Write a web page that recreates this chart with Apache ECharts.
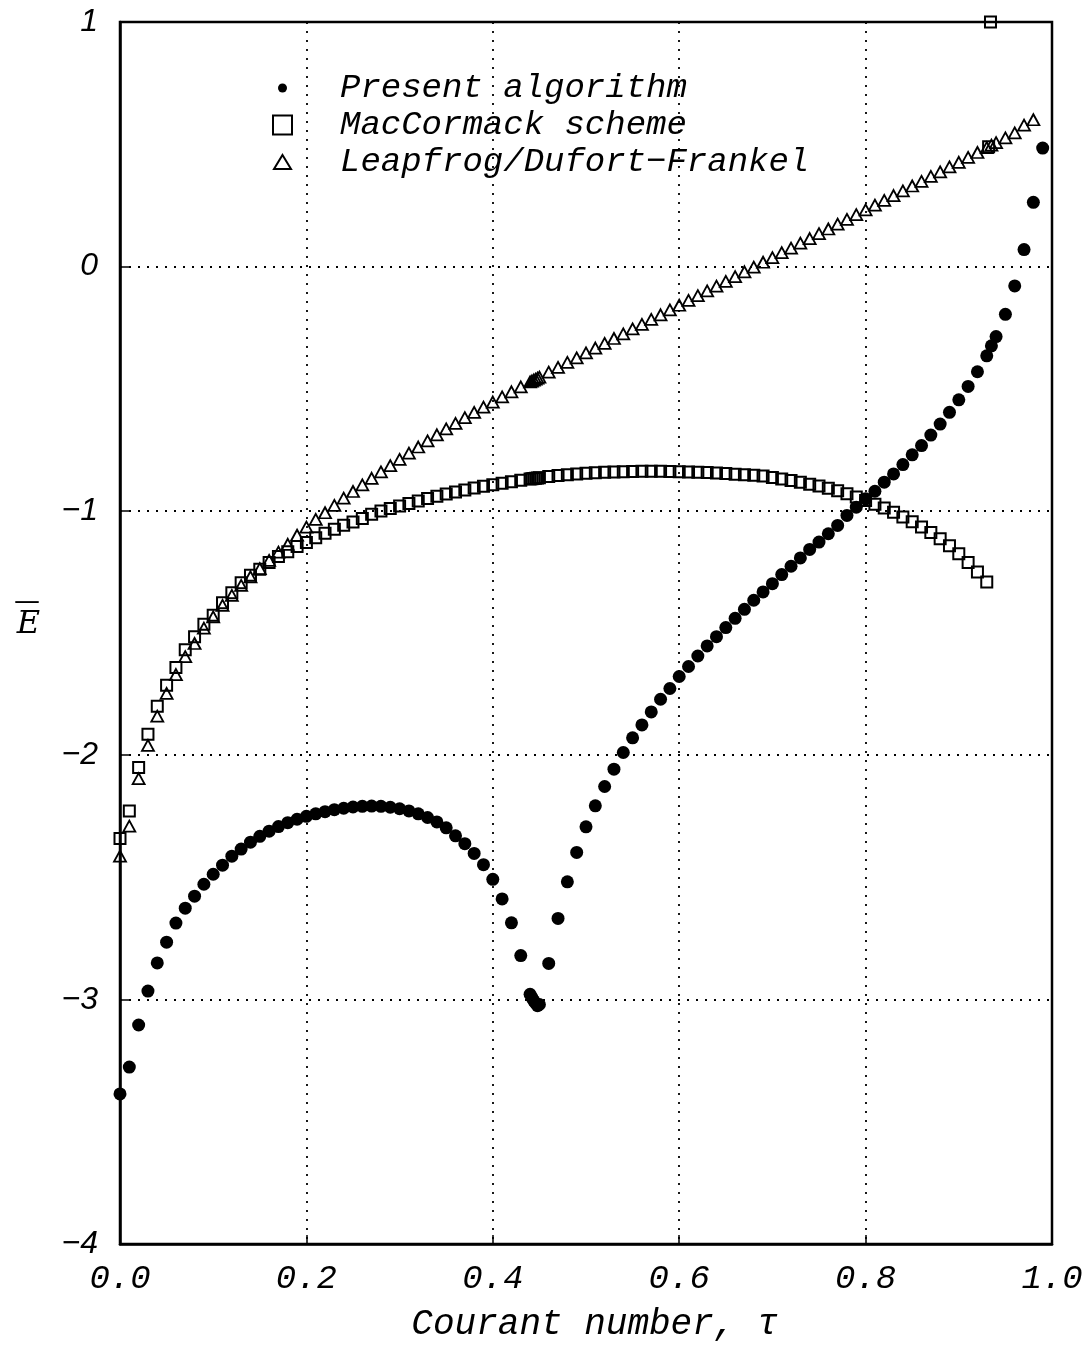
<!DOCTYPE html>
<html>
<head>
<meta charset="utf-8">
<script src="https://cdn.jsdelivr.net/npm/echarts@6/dist/echarts.min.js"></script>
<style>
html,body{margin:0;padding:0;background:#fff;}
#chart{width:1089px;height:1347px;}
</style>
</head>
<body>
<div id="chart"></div>
<script>
// ---- data ----
const presentX = [0,0.01,0.02,0.03,0.04,0.05,0.06,0.07,0.08,0.09,0.10,0.11,0.12,0.13,0.14,0.15,0.16,0.17,0.18,0.19,0.20,0.21,0.22,0.23,0.24,0.25,0.26,0.27,0.28,0.29,0.30,0.31,0.32,0.33,0.34,0.35,0.36,0.37,0.38,0.39,0.40,0.41,0.42,0.43,0.44,0.442,0.444,0.446,0.448,0.45,0.46,0.47,0.48,0.49,0.50,0.51,0.52,0.53,0.54,0.55,0.56,0.57,0.58,0.59,0.60,0.61,0.62,0.63,0.64,0.65,0.66,0.67,0.68,0.69,0.70,0.71,0.72,0.73,0.74,0.75,0.76,0.77,0.78,0.79,0.80,0.81,0.82,0.83,0.84,0.85,0.86,0.87,0.88,0.89,0.90,0.91,0.92,0.93,0.935,0.94,0.95,0.96,0.97,0.98,0.99];
const presentY = [-3.386,-3.276,-3.104,-2.965,-2.850,-2.765,-2.687,-2.626,-2.577,-2.528,-2.487,-2.450,-2.413,-2.384,-2.356,-2.332,-2.311,-2.292,-2.276,-2.262,-2.250,-2.240,-2.231,-2.223,-2.217,-2.212,-2.209,-2.208,-2.209,-2.213,-2.219,-2.228,-2.240,-2.255,-2.273,-2.297,-2.330,-2.362,-2.402,-2.448,-2.508,-2.588,-2.686,-2.820,-2.978,-2.992,-3.005,-3.015,-3.025,-3.020,-2.852,-2.668,-2.518,-2.398,-2.293,-2.207,-2.128,-2.057,-1.989,-1.929,-1.876,-1.823,-1.771,-1.727,-1.678,-1.637,-1.594,-1.553,-1.515,-1.478,-1.440,-1.403,-1.366,-1.332,-1.298,-1.261,-1.227,-1.193,-1.158,-1.128,-1.094,-1.060,-1.019,-0.985,-0.951,-0.920,-0.883,-0.849,-0.811,-0.771,-0.733,-0.690,-0.645,-0.597,-0.546,-0.491,-0.431,-0.366,-0.325,-0.287,-0.196,-0.080,0.069,0.262,0.484];

const macX = [0,0.01,0.02,0.03,0.04,0.05,0.06,0.07,0.08,0.09,0.10,0.11,0.12,0.13,0.14,0.15,0.16,0.17,0.18,0.19,0.20,0.21,0.22,0.23,0.24,0.25,0.26,0.27,0.28,0.29,0.30,0.31,0.32,0.33,0.34,0.35,0.36,0.37,0.38,0.39,0.40,0.41,0.42,0.43,0.44,0.442,0.444,0.446,0.448,0.45,0.46,0.47,0.48,0.49,0.50,0.51,0.52,0.53,0.54,0.55,0.56,0.57,0.58,0.59,0.60,0.61,0.62,0.63,0.64,0.65,0.66,0.67,0.68,0.69,0.70,0.71,0.72,0.73,0.74,0.75,0.76,0.77,0.78,0.79,0.80,0.81,0.82,0.83,0.84,0.85,0.86,0.87,0.88,0.89,0.90,0.91,0.92,0.93,0.932,0.934];
const macY = [-2.341,-2.228,-2.050,-1.914,-1.800,-1.714,-1.641,-1.569,-1.515,-1.464,-1.427,-1.376,-1.335,-1.294,-1.264,-1.239,-1.212,-1.187,-1.168,-1.146,-1.130,-1.110,-1.092,-1.076,-1.059,-1.046,-1.031,-1.014,-1.001,-0.991,-0.980,-0.970,-0.960,-0.950,-0.940,-0.931,-0.923,-0.915,-0.907,-0.900,-0.893,-0.887,-0.881,-0.875,-0.870,-0.869,-0.868,-0.867,-0.866,-0.865,-0.860,-0.856,-0.852,-0.849,-0.846,-0.844,-0.842,-0.841,-0.840,-0.839,-0.838,-0.838,-0.838,-0.839,-0.840,-0.841,-0.842,-0.843,-0.845,-0.847,-0.850,-0.852,-0.855,-0.858,-0.864,-0.870,-0.876,-0.883,-0.891,-0.899,-0.908,-0.918,-0.930,-0.944,-0.958,-0.973,-0.989,-1.006,-1.025,-1.045,-1.066,-1.089,-1.114,-1.143,-1.176,-1.212,-1.250,-1.291,0.490,1.000];

const leapX = [0,0.01,0.02,0.03,0.04,0.05,0.06,0.07,0.08,0.09,0.10,0.11,0.12,0.13,0.14,0.15,0.16,0.17,0.18,0.19,0.20,0.21,0.22,0.23,0.24,0.25,0.26,0.27,0.28,0.29,0.30,0.31,0.32,0.33,0.34,0.35,0.36,0.37,0.38,0.39,0.40,0.41,0.42,0.43,0.44,0.442,0.444,0.446,0.448,0.45,0.46,0.47,0.48,0.49,0.50,0.51,0.52,0.53,0.54,0.55,0.56,0.57,0.58,0.59,0.60,0.61,0.62,0.63,0.64,0.65,0.66,0.67,0.68,0.69,0.70,0.71,0.72,0.73,0.74,0.75,0.76,0.77,0.78,0.79,0.80,0.81,0.82,0.83,0.84,0.85,0.86,0.87,0.88,0.89,0.90,0.91,0.92,0.93,0.935,0.94,0.95,0.96,0.97,0.98];
const leapY = [-2.413,-2.290,-2.096,-1.960,-1.840,-1.747,-1.670,-1.597,-1.543,-1.480,-1.434,-1.387,-1.346,-1.305,-1.270,-1.237,-1.203,-1.169,-1.137,-1.100,-1.067,-1.035,-1.008,-0.978,-0.948,-0.921,-0.894,-0.867,-0.841,-0.815,-0.790,-0.764,-0.739,-0.714,-0.689,-0.665,-0.642,-0.619,-0.597,-0.576,-0.555,-0.534,-0.513,-0.493,-0.473,-0.469,-0.465,-0.461,-0.457,-0.453,-0.433,-0.413,-0.393,-0.374,-0.354,-0.334,-0.315,-0.295,-0.276,-0.256,-0.237,-0.217,-0.198,-0.178,-0.159,-0.139,-0.120,-0.100,-0.081,-0.061,-0.042,-0.022,-0.003,0.017,0.036,0.056,0.075,0.095,0.114,0.134,0.153,0.173,0.192,0.212,0.231,0.251,0.270,0.290,0.309,0.329,0.348,0.368,0.387,0.407,0.426,0.446,0.466,0.486,0.496,0.506,0.526,0.546,0.578,0.600];

const seriesNames = ['Present algorithm', 'MacCormack scheme', 'Leapfrog/Dufort\u2212Frankel'];
const xTicks = [0, 0.2, 0.4, 0.6, 0.8, 1.0];
const yTicks = [-4, -3, -2, -1, 0, 1];
const xTitle = 'Courant number, \u03C4';
const yTitleLetter = 'E';

function pairs(xs, ys) { return xs.map((x, i) => [x, ys[i]]); }

const chart = echarts.init(document.getElementById('chart'), null, {renderer: 'canvas'});

const monoItalic = {fontFamily: 'Liberation Mono', fontStyle: 'italic', color: '#000'};
const dotted = {type: [2, 7], color: '#000', width: 1.8};

const option = {
  animation: false,
  backgroundColor: '#fff',
  grid: {left: 120, top: 22, right: 37, bottom: 102, show: true, borderColor: '#000', borderWidth: 2.5, backgroundColor: 'transparent'},
  legend: {
    orient: 'vertical',
    left: 272,
    top: 71,
    padding: 0,
    itemWidth: 19,
    itemHeight: 19,
    itemGap: 3,
    selectedMode: false,
    data: [
      {name: seriesNames[0], icon: 'path://M0,0M19,19M5,9.5A4.5,4.5,0,1,0,14,9.5A4.5,4.5,0,1,0,5,9.5Z'},
      {name: seriesNames[1], icon: 'rect'},
      {name: seriesNames[2], icon: 'path://M0,2M19,16M9.5,2L18,16L1,16Z'}
    ],
    textStyle: Object.assign({fontSize: 34, padding: [0, 0, 0, 43]}, monoItalic)
  },
  xAxis: {
    type: 'value', min: xTicks[0], max: xTicks[xTicks.length - 1], interval: 0.2,
    name: xTitle, nameLocation: 'middle', nameGap: 62,
    nameTextStyle: Object.assign({fontSize: 36, padding: [0, 0, 0, 18]}, monoItalic),
    axisLine: {show: true, onZero: false, lineStyle: {color: '#000', width: 2.5}},
    axisTick: {show: true, inside: true, length: 9, lineStyle: {color: '#000', width: 1.5}},
    axisLabel: {margin: 18, formatter: v => v.toFixed(1), fontSize: 34, fontFamily: 'Liberation Mono', fontStyle: 'italic', color: '#000'},
    splitLine: {show: true, lineStyle: dotted}
  },
  yAxis: {
    type: 'value', min: yTicks[0], max: yTicks[yTicks.length - 1], interval: 1,
    name: '{bar|\u2014}\n{e|' + yTitleLetter + '}', nameLocation: 'middle', nameRotate: 0, nameGap: 80,
    nameTextStyle: {
      color: '#000',
      padding: [0, 0, 28, 0],
      rich: {
        bar: {fontFamily: 'DejaVu Sans', fontSize: 26, lineHeight: 12, padding: [0, 0, 0, 6], color: '#000'},
        e: {fontFamily: 'DejaVu Serif', fontStyle: 'italic', fontSize: 32, lineHeight: 34, color: '#000'}
      }
    },
    axisLine: {show: true, onZero: false, lineStyle: {color: '#000', width: 2.5}},
    axisTick: {show: true, inside: true, length: 9, lineStyle: {color: '#000', width: 1.5}},
    axisLabel: {margin: 22, formatter: v => (v < 0 ? '\u2212' + Math.abs(v) : String(v)), fontSize: 32, fontFamily: 'Liberation Sans', fontStyle: 'italic', color: '#000'},
    splitLine: {show: true, lineStyle: dotted}
  },
  series: [
    {
      name: seriesNames[0], type: 'scatter', clip: false, z: 2,
      symbol: 'circle', symbolSize: 13,
      itemStyle: {color: '#000', opacity: 1},
      data: pairs(presentX, presentY)
    },
    {
      name: seriesNames[1], type: 'scatter', clip: false, z: 3,
      symbol: 'rect', symbolSize: 11,
      itemStyle: {color: 'rgba(0,0,0,0)', borderColor: '#000', borderWidth: 2, opacity: 1},
      data: pairs(macX, macY)
    },
    {
      name: seriesNames[2], type: 'scatter', clip: false, z: 3,
      symbol: 'triangle', symbolSize: [12, 11],
      itemStyle: {color: 'rgba(0,0,0,0)', borderColor: '#000', borderWidth: 1.8, opacity: 1},
      data: pairs(leapX, leapY)
    }
  ]
};
chart.setOption(option);
</script>
</body>
</html>
